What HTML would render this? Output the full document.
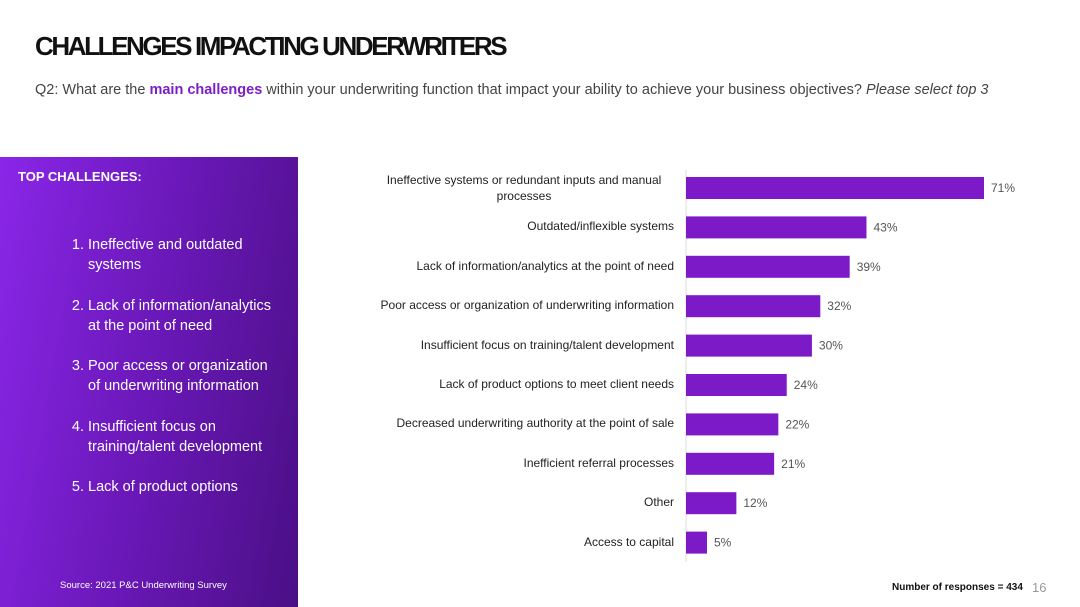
<!DOCTYPE html>
<html><head><meta charset="utf-8"><style>
body{margin:0;width:1080px;height:607px;background:#fff;position:relative;overflow:hidden;font-family:"Liberation Sans",sans-serif;}
.abs{position:absolute;}
#title{left:35px;top:31px;font-size:26px;font-weight:bold;letter-spacing:-2.4px;color:#111;}
#q{left:35px;top:82px;font-size:14.5px;color:#444;}
#panel{left:0;top:157px;width:298px;height:450px;background:linear-gradient(100deg,#8a26e8 0%,#6a18b8 50%,#4a0f85 100%);color:#fff;}
#panel ol{position:absolute;left:40px;top:78px;margin:0;padding-left:48px;font-size:14.5px;line-height:20px;width:192px;}
#panel li{margin-bottom:20.5px;}
.lbl{position:absolute;right:406px;font-size:12px;color:#222;text-align:center;}
</style></head><body>
<div class="abs" id="title">CHALLENGES IMPACTING UNDERWRITERS</div>
<div class="abs" id="q">Q2: What are the <b style="color:#7b1fc4">main challenges</b> within your underwriting function that impact your ability to achieve your business objectives? <i>Please select top 3</i></div>
<div class="abs" id="panel">
<div class="abs" style="left:18px;top:12px;font-size:13px;font-weight:bold;">TOP CHALLENGES:</div>
<ol>
<li>Ineffective and outdated systems</li>
<li>Lack of information/analytics at the point of need</li>
<li>Poor access or organization of underwriting information</li>
<li>Insufficient focus on training/talent development</li>
<li>Lack of product options</li>
</ol>
<div class="abs" style="left:60px;top:423px;font-size:9.5px;">Source: 2021 P&amp;C Underwriting Survey</div>
</div>
<svg class="abs" style="left:0;top:0" width="1080" height="607" id="chart"></svg>
<div class="abs" style="left:892px;top:582px;font-size:10px;font-weight:bold;color:#111;">Number of responses = 434</div>
<div class="abs" style="left:1032px;top:580px;font-size:13px;color:#999;">16</div>
<script>
const categories=["Ineffective systems or redundant inputs and manual processes","Outdated/inflexible systems","Lack of information/analytics at the point of need","Poor access or organization of underwriting information","Insufficient focus on training/talent development","Lack of product options to meet client needs","Decreased underwriting authority at the point of sale","Inefficient referral processes","Other","Access to capital"];
const values=[71,43,39,32,30,24,22,21,12,5];
const NS="http://www.w3.org/2000/svg";
const svg=document.getElementById('chart');
const x0=686,scale=298/71,y0=188,step=39.4,bh=22;
const xs=v=>x0+v*scale, ys=i=>y0+i*step;
const ax=document.createElementNS(NS,'line');
ax.setAttribute('x1',x0);ax.setAttribute('x2',x0);ax.setAttribute('y1',170);ax.setAttribute('y2',562);ax.setAttribute('stroke','#ddd');


svg.appendChild(ax);
values.forEach((v,i)=>{
 const r=document.createElementNS(NS,'rect');
 r.setAttribute('x',x0);r.setAttribute('y',ys(i)-bh/2);r.setAttribute('width',xs(v)-x0);r.setAttribute('height',bh);r.setAttribute('fill','#7b1ac6');
 
 
 svg.appendChild(r);
 const t=document.createElementNS(NS,'text');
 t.setAttribute('x',xs(v)+7);t.setAttribute('y',ys(i)+4);t.setAttribute('font-size','12');t.setAttribute('fill','#555');t.setAttribute('font-family','Liberation Sans, sans-serif');
 t.textContent=v+'%';
 
 
 svg.appendChild(t);
 const d=document.createElement('div');
 d.className='lbl';
 
 
 d.textContent=categories[i];
 if(i===0){d.style.width='300px';d.style.top=(ys(i)-16)+'px';d.style.lineHeight='16px';}
 else{d.style.top=(ys(i)-8)+'px';d.style.whiteSpace='nowrap';}
 document.body.appendChild(d);
});
</script>
</body></html>
